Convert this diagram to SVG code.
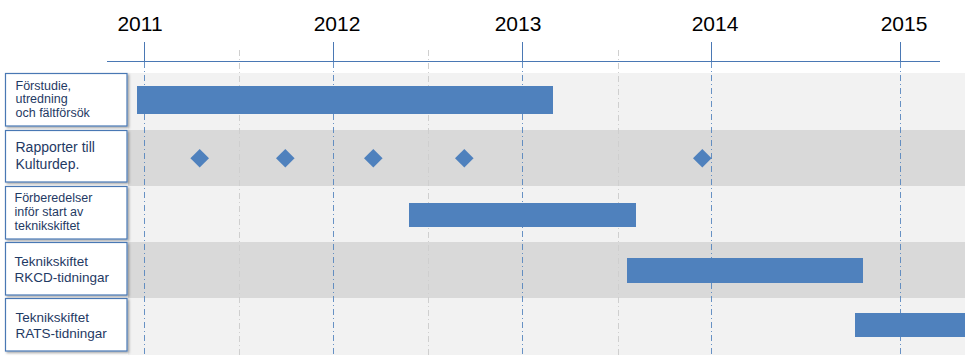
<svg xmlns="http://www.w3.org/2000/svg" width="965" height="359" viewBox="0 0 965 359">
<defs>
<filter id="sh" x="-10%" y="-10%" width="125%" height="130%">
<feDropShadow dx="1.5" dy="1.5" stdDeviation="1" flood-color="#000" flood-opacity="0.35"/>
</filter>
</defs>
<style>
.band-l{fill:#f2f2f2}
.band-d{fill:#d9d9d9}
.year{font-family:"Liberation Sans",Arial,sans-serif;font-size:21px;fill:#000;text-anchor:middle}
.box{fill:#fff;stroke:#4a78b4;stroke-width:1.2;filter:url(#sh)}
.lbl{font-family:"Liberation Sans",Arial,sans-serif;fill:#1f3a64}
.bar{fill:#4f81bd}
.yl{stroke:#4f81bd;stroke-width:1;stroke-dasharray:6 3 1 3;opacity:0.85}
.hl{stroke:#cfcfcf;stroke-width:1;stroke-dasharray:6 3 1 3}
.tick{stroke:#4a78b4;stroke-width:1}
</style>
<rect width="965" height="359" fill="#fff"/>
<g id="bands">
<rect class="band-l" x="128" y="73" width="837" height="57" fill="#f0f0f0"/>
<rect class="band-d" x="128" y="130" width="837" height="56"/>
<rect class="band-l" x="128" y="186" width="837" height="56"/>
<rect class="band-d" x="128" y="242" width="837" height="56"/>
<rect class="band-l" x="128" y="298" width="837" height="57"/>
</g>
<g id="axis">
<line class="tick" x1="107" y1="61.5" x2="940" y2="61.5"/>
<line class="tick" x1="144.5" y1="42" x2="144.5" y2="61"/>
<line class="tick" x1="333.5" y1="42" x2="333.5" y2="61"/>
<line class="tick" x1="522.5" y1="42" x2="522.5" y2="61"/>
<line class="tick" x1="711.5" y1="42" x2="711.5" y2="61"/>
<line class="tick" x1="900.5" y1="42" x2="900.5" y2="61"/>
<text class="year" x="140" y="31">2011</text>
<text class="year" x="337" y="31">2012</text>
<text class="year" x="518" y="31">2013</text>
<text class="year" x="715" y="31">2014</text>
<text class="year" x="904" y="31">2015</text>
</g>
<g id="gridlines">
<line class="hl" x1="239.5" y1="50" x2="239.5" y2="355"/>
<line class="hl" x1="428.5" y1="50" x2="428.5" y2="355"/>
<line class="hl" x1="618.5" y1="50" x2="618.5" y2="355"/>
<line class="yl" x1="144.5" y1="62" x2="144.5" y2="355"/>
<line class="yl" x1="333.5" y1="62" x2="333.5" y2="355"/>
<line class="yl" x1="522.5" y1="62" x2="522.5" y2="355"/>
<line class="yl" x1="711.5" y1="62" x2="711.5" y2="355"/>
<line class="yl" x1="900.5" y1="62" x2="900.5" y2="355"/>
</g>
<g id="bars">
<rect class="bar" x="137" y="86" width="416" height="28"/>
<rect class="bar" x="409" y="203" width="227" height="24"/>
<rect class="bar" x="627" y="258" width="236" height="25"/>
<rect class="bar" x="855" y="313" width="110" height="24"/>
</g>
<g id="milestones">
<path class="bar" d="M199.7 149 L209 158.3 L199.7 167.6 L190.4 158.3 Z"/>
<path class="bar" d="M285.3 149 L294.6 158.3 L285.3 167.6 L276 158.3 Z"/>
<path class="bar" d="M373.3 149 L382.6 158.3 L373.3 167.6 L364 158.3 Z"/>
<path class="bar" d="M464.3 149 L473.6 158.3 L464.3 167.6 L455 158.3 Z"/>
<path class="bar" d="M702.3 149 L711.6 158.3 L702.3 167.6 L693 158.3 Z"/>
</g>
<g id="row1">
<rect class="box" x="5.5" y="73.5" width="121.5" height="52.5"/>
<text class="lbl" font-size="12.5"><tspan x="15.5" y="89.5">Förstudie,</tspan><tspan x="15.5" y="103">utredning</tspan><tspan x="15.5" y="117">och fältförsök</tspan></text>
</g>
<g id="row2">
<rect class="box" x="5.5" y="130.5" width="121.5" height="51.5"/>
<text class="lbl" font-size="14"><tspan x="15.5" y="152">Rapporter till</tspan><tspan x="15.5" y="168.5">Kulturdep.</tspan></text>
</g>
<g id="row3">
<rect class="box" x="5.5" y="186.5" width="121.5" height="52.5"/>
<text class="lbl" font-size="12.5"><tspan x="14.5" y="202">Förberedelser</tspan><tspan x="14.5" y="216">inför start av</tspan><tspan x="14.5" y="229.5">teknikskiftet</tspan></text>
</g>
<g id="row4">
<rect class="box" x="5.5" y="242.5" width="121.5" height="52.5"/>
<text class="lbl" font-size="13.5"><tspan x="14.5" y="265.5">Teknikskiftet</tspan><tspan x="14.5" y="282">RKCD-tidningar</tspan></text>
</g>
<g id="row5">
<rect class="box" x="5.5" y="298.5" width="121.5" height="52.5"/>
<text class="lbl" font-size="13.5"><tspan x="15.5" y="322">Teknikskiftet</tspan><tspan x="15.5" y="338">RATS-tidningar</tspan></text>
</g>
</svg>
